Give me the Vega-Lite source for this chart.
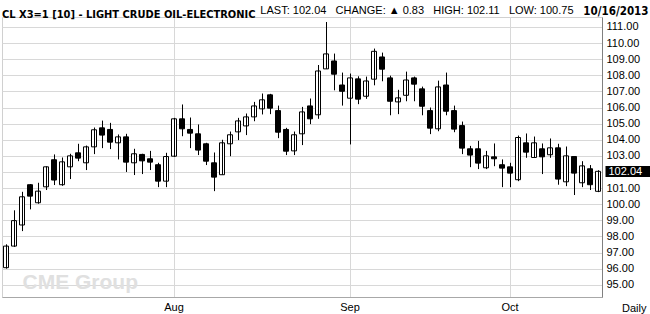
{
  "$schema": "https://vega.github.io/schema/vega-lite/v6.json",
  "width": 600,
  "height": 280,
  "autosize": {"type": "none"},
  "padding": {"left": 2, "top": 17, "right": 48, "bottom": 17},
  "background": "white",
  "config": {
    "view": {"stroke": "#d0d0d0"},
    "axis": {"labelFont": "Liberation Sans", "labelFontSize": 11, "labelColor": "#000", "titleFont": "Liberation Sans"}
  },
  "title": {
    "text": "CL X3=1 [10] - LIGHT CRUDE OIL-ELECTRONIC",
    "anchor": "start",
    "frame": "group",
    "font": "DejaVu Sans Condensed, sans-serif",
    "fontSize": 11,
    "fontWeight": "bold",
    "color": "#000",
    "offset": -16
  },
  "data": {"values": [
    {"date":"2013-07-02","open":96.06,"high":97.51,"low":96.0,"close":97.40},
    {"date":"2013-07-03","open":97.40,"high":99.62,"low":97.35,"close":98.98},
    {"date":"2013-07-05","open":98.71,"high":100.77,"low":98.33,"close":100.46},
    {"date":"2013-07-08","open":101.21,"high":101.25,"low":99.68,"close":100.50},
    {"date":"2013-07-09","open":100.09,"high":101.33,"low":100.03,"close":100.81},
    {"date":"2013-07-10","open":101.08,"high":102.35,"low":100.88,"close":102.32},
    {"date":"2013-07-11","open":102.76,"high":103.09,"low":101.19,"close":101.50},
    {"date":"2013-07-12","open":101.21,"high":102.90,"low":101.14,"close":102.63},
    {"date":"2013-07-15","open":102.32,"high":103.13,"low":101.56,"close":103.00},
    {"date":"2013-07-16","open":103.19,"high":103.75,"low":102.67,"close":102.86},
    {"date":"2013-07-17","open":102.57,"high":103.64,"low":102.12,"close":103.56},
    {"date":"2013-07-18","open":103.56,"high":104.76,"low":103.11,"close":104.62},
    {"date":"2013-07-19","open":104.74,"high":105.19,"low":103.48,"close":104.29},
    {"date":"2013-07-22","open":104.64,"high":105.05,"low":103.42,"close":103.85},
    {"date":"2013-07-23","open":103.81,"high":104.33,"low":102.78,"close":104.18},
    {"date":"2013-07-24","open":104.18,"high":104.37,"low":102.00,"close":102.61},
    {"date":"2013-07-25","open":102.57,"high":103.44,"low":101.81,"close":103.13},
    {"date":"2013-07-26","open":103.09,"high":103.13,"low":101.87,"close":102.69},
    {"date":"2013-07-29","open":102.82,"high":103.31,"low":102.12,"close":102.61},
    {"date":"2013-07-30","open":102.45,"high":102.57,"low":101.06,"close":101.43},
    {"date":"2013-07-31","open":101.43,"high":103.19,"low":101.06,"close":102.96},
    {"date":"2013-08-01","open":102.98,"high":105.36,"low":102.94,"close":105.30},
    {"date":"2013-08-02","open":105.30,"high":106.19,"low":104.22,"close":104.68},
    {"date":"2013-08-05","open":104.64,"high":105.38,"low":103.48,"close":104.41},
    {"date":"2013-08-06","open":104.37,"high":104.95,"low":103.05,"close":103.36},
    {"date":"2013-08-07","open":103.75,"high":103.81,"low":102.43,"close":102.67},
    {"date":"2013-08-08","open":102.57,"high":103.21,"low":100.81,"close":101.68},
    {"date":"2013-08-09","open":101.83,"high":104.00,"low":101.83,"close":103.81},
    {"date":"2013-08-12","open":103.75,"high":104.51,"low":102.98,"close":104.31},
    {"date":"2013-08-13","open":104.49,"high":105.36,"low":103.98,"close":105.17},
    {"date":"2013-08-14","open":104.86,"high":105.63,"low":104.29,"close":105.42},
    {"date":"2013-08-15","open":105.42,"high":106.35,"low":105.15,"close":106.10},
    {"date":"2013-08-16","open":105.92,"high":106.87,"low":105.57,"close":106.48},
    {"date":"2013-08-19","open":106.79,"high":106.85,"low":105.59,"close":105.96},
    {"date":"2013-08-20","open":105.81,"high":106.12,"low":104.10,"close":104.47},
    {"date":"2013-08-21","open":104.64,"high":104.74,"low":103.05,"close":103.29},
    {"date":"2013-08-22","open":103.31,"high":104.51,"low":103.05,"close":104.31},
    {"date":"2013-08-23","open":104.37,"high":106.04,"low":103.67,"close":105.73},
    {"date":"2013-08-26","open":106.10,"high":106.56,"low":104.97,"close":105.30},
    {"date":"2013-08-27","open":105.55,"high":108.64,"low":105.30,"close":108.27},
    {"date":"2013-08-28","open":108.40,"high":111.31,"low":108.40,"close":109.33},
    {"date":"2013-08-29","open":108.89,"high":109.35,"low":107.07,"close":108.07},
    {"date":"2013-08-30","open":107.40,"high":108.17,"low":106.12,"close":107.01},
    {"date":"2013-09-03","open":106.58,"high":108.11,"low":103.71,"close":107.84},
    {"date":"2013-09-04","open":107.78,"high":107.94,"low":106.21,"close":106.52},
    {"date":"2013-09-05","open":106.70,"high":107.92,"low":106.54,"close":107.65},
    {"date":"2013-09-06","open":107.76,"high":109.66,"low":107.38,"close":109.49},
    {"date":"2013-09-09","open":109.14,"high":109.41,"low":107.63,"close":108.38},
    {"date":"2013-09-10","open":107.84,"high":107.98,"low":105.52,"close":106.39},
    {"date":"2013-09-11","open":106.35,"high":107.10,"low":105.59,"close":106.60},
    {"date":"2013-09-12","open":106.76,"high":108.23,"low":106.39,"close":107.71},
    {"date":"2013-09-13","open":107.84,"high":107.92,"low":106.39,"close":107.45},
    {"date":"2013-09-16","open":107.16,"high":107.30,"low":105.52,"close":106.08},
    {"date":"2013-09-17","open":105.81,"high":106.00,"low":104.35,"close":104.72},
    {"date":"2013-09-18","open":104.68,"high":107.67,"low":104.53,"close":107.28},
    {"date":"2013-09-19","open":107.40,"high":108.17,"low":105.52,"close":105.77},
    {"date":"2013-09-20","open":105.81,"high":106.12,"low":104.47,"close":104.66},
    {"date":"2013-09-23","open":104.88,"high":105.13,"low":103.11,"close":103.48},
    {"date":"2013-09-24","open":103.44,"high":103.62,"low":102.30,"close":103.05},
    {"date":"2013-09-25","open":103.44,"high":103.93,"low":102.18,"close":102.55},
    {"date":"2013-09-26","open":102.26,"high":103.31,"low":102.18,"close":103.00},
    {"date":"2013-09-27","open":102.94,"high":103.77,"low":102.36,"close":102.82},
    {"date":"2013-09-30","open":102.45,"high":102.78,"low":101.06,"close":102.24},
    {"date":"2013-10-01","open":102.32,"high":102.57,"low":101.06,"close":101.93},
    {"date":"2013-10-02","open":101.52,"high":104.26,"low":101.43,"close":104.14},
    {"date":"2013-10-03","open":103.81,"high":104.39,"low":102.88,"close":103.23},
    {"date":"2013-10-04","open":102.90,"high":104.20,"low":102.90,"close":103.81},
    {"date":"2013-10-07","open":103.44,"high":103.77,"low":101.87,"close":102.94},
    {"date":"2013-10-08","open":103.07,"high":104.08,"low":102.88,"close":103.50},
    {"date":"2013-10-09","open":103.50,"high":103.75,"low":101.21,"close":101.56},
    {"date":"2013-10-10","open":101.39,"high":103.58,"low":101.12,"close":103.00},
    {"date":"2013-10-11","open":102.96,"high":102.96,"low":100.57,"close":101.93},
    {"date":"2013-10-14","open":101.33,"high":102.67,"low":101.06,"close":102.38},
    {"date":"2013-10-15","open":102.20,"high":102.43,"low":100.88,"close":101.21},
    {"date":"2013-10-16","open":100.80,"high":102.11,"low":100.75,"close":102.04}
  ]},
  "resolve": {"axis": {"x": "independent", "y": "independent"}},
  "layer": [
    {
      "mark": {"type": "bar", "width": 5, "stroke": "#000", "strokeWidth": 1},
      "encoding": {
        "x": {
          "field": "date", "type": "ordinal",
          "scale": {"paddingInner": 0, "paddingOuter": 0},
          "axis": {
            "orient": "bottom",
            "values": ["2013-08-01", "2013-09-03", "2013-10-01"],
            "labelExpr": "datum.value == '2013-08-01' ? 'Aug' : datum.value == '2013-09-03' ? 'Sep' : 'Oct'",
            "labelAngle": 0,
            "bandPosition": 0.5,
            "grid": true, "gridColor": "#d8d8d8", "gridWidth": 1,
            "ticks": false, "tickSize": 0,
            "labelPadding": 4,
            "domain": true, "domainColor": "#a8a8a8",
            "title": "Daily", "titleAngle": 0, "titleX": 644, "titleY": 14,
            "titleAlign": "right", "titleBaseline": "alphabetic",
            "titleFontSize": 11, "titleFontWeight": "normal", "titleColor": "#000"
          }
        },
        "y": {
          "field": "open", "type": "quantitative",
          "scale": {"domain": [94.24, 111.62], "nice": false, "zero": false},
          "axis": {
            "orient": "right",
            "values": [95,96,97,98,99,100,101,102,103,104,105,106,107,108,109,110,111],
            "labelExpr": "datum.value == 102 ? '' : format(datum.value, '.2f')",
            "grid": true, "gridColor": "#d8d8d8",
            "ticks": false, "tickSize": 0, "labelPadding": 4,
            "domain": true, "domainColor": "#808080",
            "title": "CME Group", "titleAngle": 0, "titleX": -580, "titleY": 271,
            "titleAlign": "left", "titleBaseline": "alphabetic",
            "titleFontSize": 21, "titleFontWeight": "bold", "titleColor": "#e0e0e0"
          }
        },
        "y2": {"field": "close"},
        "fill": {"condition": {"test": "datum.close >= datum.open", "value": "#ffffff"}, "value": "#000000"}
      }
    },
    {
      "mark": {"type": "rule", "color": "#000", "strokeWidth": 1, "xOffset": 0.5},
      "encoding": {
        "x": {
          "field": "date", "type": "ordinal",
          "scale": {"paddingInner": 0, "paddingOuter": 0},
          "axis": {
            "orient": "top", "labels": false, "ticks": false, "domain": false, "grid": false,
            "title": "LAST: 102.04\u00a0\u00a0 CHANGE: ▲ 0.83\u00a0\u00a0 HIGH: 102.11\u00a0\u00a0 LOW: 100.75",
            "titleX": 571, "titleY": -4, "titleAlign": "right", "titleBaseline": "alphabetic",
            "titleFontSize": 11, "titleFontWeight": "normal", "titleColor": "#000"
          }
        },
        "y": {
          "field": "low", "type": "quantitative",
          "scale": {"domain": [94.24, 111.62], "nice": false, "zero": false},
          "axis": {
            "orient": "right", "offset": 3,
            "values": [102.04], "format": ".2f",
            "grid": false, "domain": false,
            "ticks": true, "tickColor": "#000", "tickWidth": 11, "tickSize": 45,
            "labelPadding": -42, "labelColor": "#fff", "labelAlign": "left",
            "title": "10/16/2013", "titleAngle": 0, "titleX": 43, "titleY": -3,
            "titleAlign": "right", "titleBaseline": "alphabetic",
            "titleFont": "DejaVu Sans Condensed, sans-serif",
            "titleFontSize": 11.5, "titleFontWeight": "bold", "titleColor": "#000"
          }
        },
        "y2": {"field": "high"}
      }
    }
  ]
}
